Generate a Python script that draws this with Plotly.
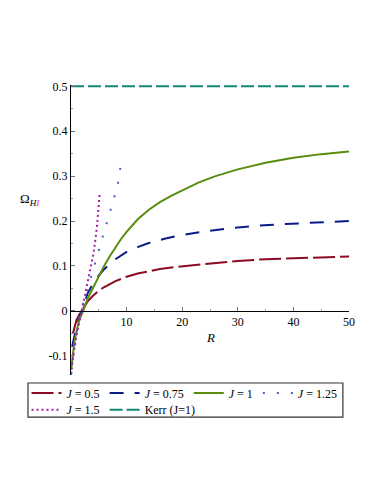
import plotly.graph_objects as go

# values
r_j050 = [0.35, 0.7, 1.0, 1.5, 2.0, 2.5, 3.0, 4.0, 5.0, 6.0, 7.0, 8.0, 10.0, 12.0, 14.0, 16.0, 19.0,
          22.0, 26.0, 30.0, 35.0, 40.0, 45.0, 50.0]
w_j050 = [-0.05, -0.032, -0.02, -0.008, 0.002, 0.012, 0.021, 0.034, 0.045, 0.053, 0.06, 0.066, 0.076,
          0.083, 0.088, 0.093, 0.098, 0.102, 0.107, 0.111, 0.115, 0.117, 0.119, 0.121]

r_j075 = [0.2, 0.5, 1.0, 1.5, 2.0, 2.57, 3.0, 4.0, 5.0, 6.0, 7.0, 8.0, 10.0, 12.0, 14.0, 17.0, 20.0,
          24.0, 28.0, 33.0, 38.0, 44.0, 50.0]
w_j075 = [-0.08, -0.06, -0.035, -0.016, 0.002, 0.024, 0.039, 0.062, 0.079, 0.093, 0.105, 0.115, 0.131,
          0.142, 0.151, 0.161, 0.169, 0.177, 0.183, 0.189, 0.193, 0.197, 0.2]

r_j100 = [0.05, 0.3, 0.6, 1.0, 1.5, 2.27, 3.0, 4.0, 5.0, 6.0, 7.0, 8.0, 9.0, 10.0, 12.0, 14.0, 16.0,
          18.0, 20.0, 23.0, 26.0, 30.0, 35.0, 40.0, 45.0, 50.0]
w_j100 = [-0.13, -0.1, -0.07, -0.045, -0.02, 0.002, 0.027, 0.052, 0.078, 0.101, 0.122, 0.142, 0.16,
          0.176, 0.204, 0.225, 0.242, 0.256, 0.268, 0.286, 0.3, 0.315, 0.33, 0.341, 0.349, 0.355]

r_j125 = [0.05, 0.4, 0.8, 1.5, 2.2, 3.0, 3.8, 4.6, 5.4, 6.15, 6.9, 7.6, 8.4, 8.8, 9.14]
w_j125 = [-0.14, -0.1, -0.06, -0.015, 0.015, 0.052, 0.088, 0.122, 0.154, 0.185, 0.217, 0.248, 0.28,
          0.312, 0.345]

r_j150 = [0.0, 0.4, 1.0, 1.6, 2.27, 3.16, 4.06, 4.67, 5.14]
w_j150 = [-0.142, -0.1, -0.055, -0.02, 0.024, 0.069, 0.128, 0.187, 0.259]

r_kerr = [0.0, 50.0]
w_kerr = [0.5, 0.5]

y_ticks = [-0.1, 0, 0.1, 0.2, 0.3, 0.4, 0.5]
y_labels = ["-0.1", "0", "0.1", "0.2", "0.3", "0.4", "0.5"]
x_ticks = [10, 20, 30, 40, 50]

FONT = "Liberation Serif"

# name, R, Omega, colour, dash, legend row
series = [
    ("<i>J</i> = 0.5", r_j050, w_j050, "#8b0b23", "22px,5px", "legend"),
    ("<i>J</i> = 0.75", r_j075, w_j075, "#0a1a8a", "14px,11px", "legend"),
    ("<i>J</i> = 1", r_j100, w_j100, "#5a8c0f", "solid", "legend"),
    ("<i>J</i> = 1.25", r_j125, w_j125, "#4a64b4", "2px,12px", "legend"),
    ("<i>J</i> = 1.5", r_j150, w_j150, "#a81ea8", "2px,3px", "legend2"),
    ("Kerr (J=1)", r_kerr, w_kerr, "#13876f", "13px,4px", "legend2"),
]

fig = go.Figure()
for name, xs, ys, col, dash, leg in series:
    fig.add_trace(go.Scatter(x=xs, y=ys, mode="lines", name=name, legend=leg,
                             line=dict(color=col, width=2, dash=dash)))

leg_style = dict(orientation="h", xanchor="left", yanchor="top", bgcolor="rgba(0,0,0,0)",
                 borderwidth=0, font=dict(family=FONT, size=12), itemwidth=30)

# the page body adds an 8px offset, so margins are shifted to compensate
y_lo, y_hi = -0.143, 0.503
fig.update_layout(
    width=383, height=495,
    margin=dict(l=63, r=42, t=77, b=128, autoexpand=False),
    paper_bgcolor="white", plot_bgcolor="white",
    font=dict(family=FONT, size=12, color="black"),
    xaxis=dict(range=[0, 50], tickvals=x_ticks, ticks="inside", ticklen=4, tickcolor="#777",
               showgrid=False, zeroline=False, showline=True, linecolor="black", linewidth=1,
               anchor="free", position=-y_lo / (y_hi - y_lo),
               minor=dict(tickvals=[5, 15, 25, 35, 45], ticks="inside", ticklen=2, tickcolor="#999")),
    yaxis=dict(range=[y_lo, y_hi], tickvals=y_ticks, ticktext=y_labels, ticks="inside", ticklen=4,
               tickcolor="#777", showgrid=False, zeroline=False, showline=True, linecolor="black",
               linewidth=1,
               minor=dict(tickvals=[-0.05, 0.05, 0.15, 0.25, 0.35, 0.45], ticks="inside", ticklen=2,
                          tickcolor="#999")),
    legend=dict(x=-0.16, y=-0.012, **leg_style),
    legend2=dict(x=-0.16, y=-0.07, **leg_style),
    showlegend=True,
)

# frame round both legend rows
fig.add_shape(type="rect", xref="paper", yref="paper", x0=-0.1547, x1=0.978, y0=-0.0276, y1=-0.145,
              line=dict(color="#333", width=1.2), fillcolor="rgba(0,0,0,0)", layer="below")

fig.add_annotation(x=-0.104, y=0.605, xref="paper", yref="paper", xanchor="right", showarrow=False,
                   text="Ω<sub><i>H</i><i><span style='color:#e020e0'>I</span></i></sub>",
                   font=dict(family=FONT, size=13))
fig.add_annotation(x=25, y=0.098, xref="x", yref="paper", showarrow=False,
                   text="<i>R</i>", font=dict(family=FONT, size=13))

fig.write_html("out.html")
